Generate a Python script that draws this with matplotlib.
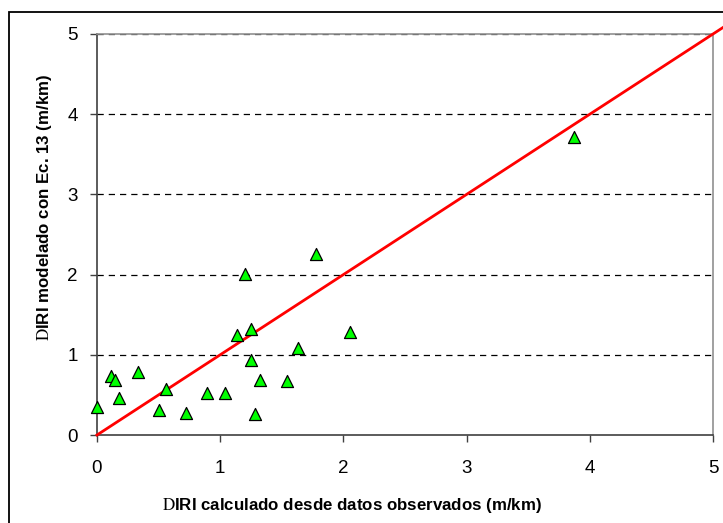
import matplotlib.pyplot as plt
from matplotlib.patches import Rectangle

plt.rcParams['font.family'] = ['Liberation Sans', 'DejaVu Sans']
plt.rcParams['mathtext.fontset'] = 'stix'

# DIRI observed (x) vs modelled with Ec. 13 (y), m/km
diri_obs = [0.00, 0.11, 0.15, 0.18, 0.33, 0.56, 0.50, 0.72, 0.89, 1.04,
            1.20, 1.14, 1.25, 1.25, 1.28, 1.32, 1.54, 1.63, 1.78, 2.05, 3.87]
diri_mod = [0.35, 0.74, 0.69, 0.46, 0.79, 0.57, 0.31, 0.27, 0.52, 0.52,
            2.01, 1.25, 1.32, 0.93, 0.26, 0.69, 0.67, 1.09, 2.26, 1.28, 3.71]

# 1:1 line
line_x = [0, 5.1]
line_y = [0, 5.1]

ticks = [0, 1, 2, 3, 4, 5]

fig = plt.figure(figsize=(7.23, 5.23), dpi=100)
ax = fig.add_axes([97 / 723, 1 - 435 / 523, 616 / 723, 401 / 523])

# outer frame (only left/top visible in the original)
fig.patches.append(Rectangle((9 / 723, -0.05), 1.1, 1 - 12 / 523 + 0.05,
                             transform=fig.transFigure, fill=False,
                             edgecolor='black', linewidth=1.3, zorder=0))

for yv in ticks[1:]:
    ax.axhline(yv, color='black', linewidth=0.9, linestyle=(0, (5, 4)), zorder=1)

ax.plot(line_x, line_y, color='#ff0000', linewidth=2, zorder=3, clip_on=False)
ax.scatter(diri_obs, diri_mod, marker='^', s=75, c='#00ff00',
           edgecolors='black', linewidths=0.9, zorder=4, clip_on=False)

ax.set_xlim(0, 5)
ax.set_ylim(0, 5)
ax.set_xticks(ticks)
ax.set_yticks(ticks)
ax.tick_params(axis='both', direction='out', length=5, width=1,
               colors='#404040', labelcolor='black', labelsize=13.5)
ax.tick_params(axis='x', pad=13)
ax.tick_params(axis='y', pad=9)

ax.spines['left'].set_color('#404040')
ax.spines['bottom'].set_color('#404040')
ax.spines['right'].set_color('#909090')
ax.spines['top'].set_color('#909090')
for s in ax.spines.values():
    s.set_linewidth(1.2)

ax.set_xlabel(r'$\mathrm{D}$IRI calculado desde datos observados (m/km)',
              fontsize=12.2, fontweight='bold')
ax.set_ylabel(r'$\mathrm{D}$IRI modelado con Ec. 13 (m/km)',
              fontsize=12.2, fontweight='bold')
ax.xaxis.set_label_coords((352 - 97) / 616, -(496 - 435) / 401)
ax.yaxis.set_label_coords(-(97 - 54) / 616, (435 - 207) / 401)

plt.savefig('out.png', dpi=100)
